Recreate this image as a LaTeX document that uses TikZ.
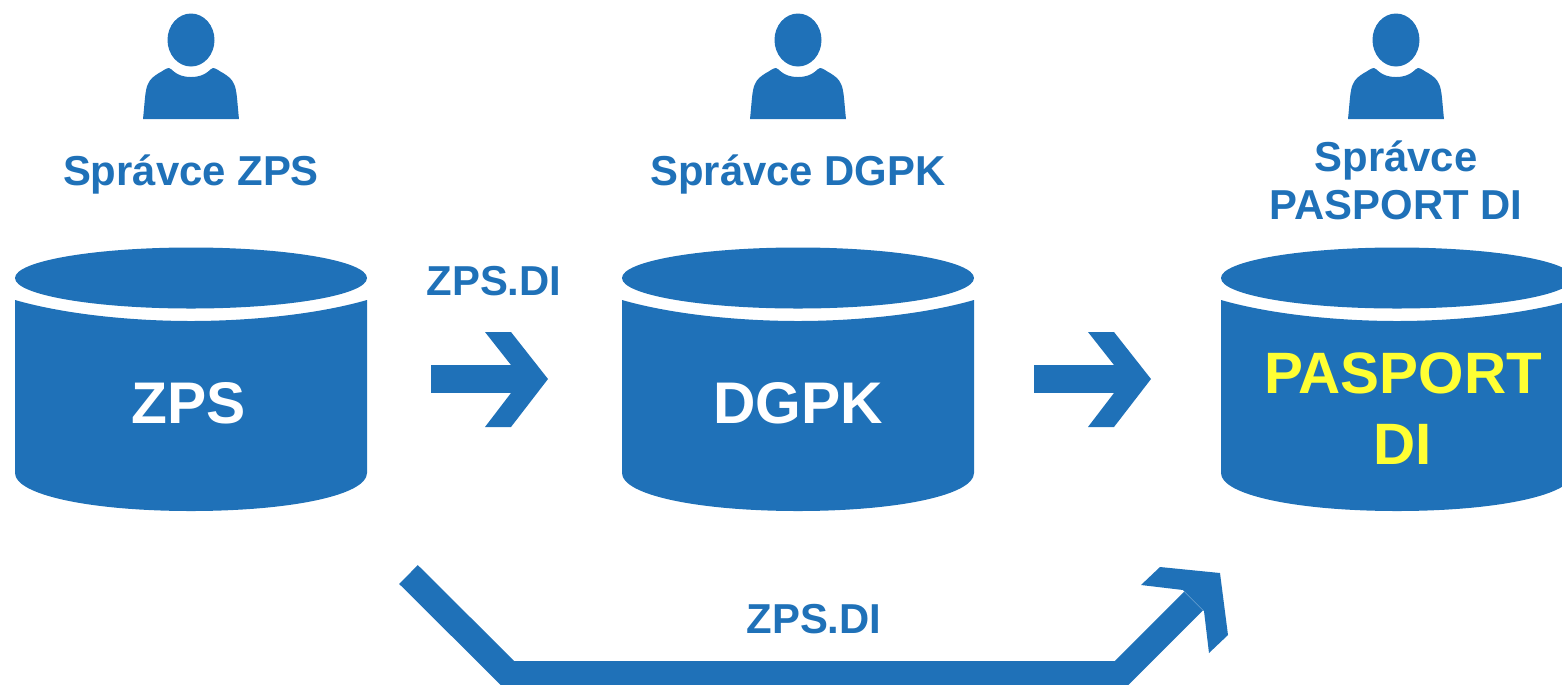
\documentclass[tikz,border=0pt]{standalone}
\usepackage{fontspec}
\setmainfont{Liberation Sans}
\definecolor{dsblue}{HTML}{1F71B8}
\definecolor{dsyellow}{HTML}{FFFF33}
\tikzset{
  person/.pic={
    \fill[dsblue] (0,40) ellipse [x radius=23.5,y radius=26.5];
    \fill[dsblue] (-48,119) .. controls (-46,100) and (-46,90) .. (-43,84)
      .. controls (-41,79) and (-37,76) .. (-32,73)
      .. controls (-28,71) and (-25,68) .. (-22,68)
      .. controls (-19,68) and (-16,77) .. (0,77)
      .. controls (16,77) and (19,68) .. (22,68)
      .. controls (25,68) and (28,71) .. (32,73)
      .. controls (37,76) and (41,79) .. (43,84)
      .. controls (46,90) and (46,100) .. (48,119) -- cycle;
  },
  dbcyl/.pic={
    \fill[dsblue] (0,278) ellipse [x radius=176,y radius=30.5];
    \fill[dsblue] (-176,300) .. controls (-120,316) and (-50,321) .. (0,321)
      .. controls (50,321) and (120,316) .. (176,300) -- (176,473)
      .. controls (176,495) and (100,511) .. (0,511)
      .. controls (-100,511) and (-176,495) .. (-176,473) -- cycle;
  },
  chevron/.pic={
    \fill[dsblue] (-63,-47) -- (-37,-47) -- (0,0) -- (-37,48) -- (-63,48)
      -- (-37,14) -- (-37,-14) -- cycle;
  },
  bighead/.pic={
    \fill[dsblue] (-60,-6) -- (0,0) -- (8,62) -- (-11,80) -- (-16,38)
      -- (-37,17) -- (-79,12) -- cycle;
  },
  flow/.style={draw=dsblue,line width=0.28cm},
  bigflow/.style={draw=dsblue,line width=0.265cm,miter limit=4},
  who/.style={text=dsblue,font=\fontsize{11.9}{13.4}\selectfont\bfseries,align=center},
  dbtext/.style={text=white,font=\fontsize{16.7}{20}\selectfont\bfseries,align=center}
}
\begin{document}
\begin{tikzpicture}[x=0.01cm,y=-0.01cm]
\clip (0,0) rectangle (1562,684);
\pic at (191,0) {person};
\pic at (798,0) {person};
\pic at (1396,0) {person};
\pic at (191,0) {dbcyl};
\pic at (798,0) {dbcyl};
\pic at (1397,0) {dbcyl};
\node[who,anchor=base] (adminzps) at (191,185) {Správce ZPS};
\node[who,anchor=base] (admindgpk) at (798,185) {Správce DGPK};
\node[who,anchor=base] (adminpasport) at (1396,219) {Správce\\PASPORT DI};
\node[dbtext] (zps) at (189,403) {ZPS};
\node[dbtext] (dgpk) at (798,403) {DGPK};
\node[dbtext,text=dsyellow,font=\fontsize{16.6}{20.2}\selectfont\bfseries] (pasport) at (1403,409) {PASPORT\\DI};
\node[who,anchor=base] (flowa) at (494,295) {ZPS.DI};
\node[who,anchor=base] (flowb) at (814,633) {ZPS.DI};
% block arrows
\coordinate (a1) at (431,379);
\coordinate (a2) at (520,379);
\coordinate (a3) at (548,379);
\coordinate (b1) at (1034,379);
\coordinate (b2) at (1123,379);
\coordinate (b3) at (1151,379);
\coordinate (c1) at (408.5,574.5);
\coordinate (c2) at (508.75,674.25);
\coordinate (c3) at (1120.25,674.25);
\coordinate (c4) at (1193.5,601);
\coordinate (c5) at (1220,573);
\draw[flow] (a1) -- (a2);
\pic at (a3) {chevron};
\draw[flow] (b1) -- (b2);
\pic at (b3) {chevron};
\draw[bigflow] (c1) -- (c2) -- (c3) -- (c4);
\pic at (c5) {bighead};
\end{tikzpicture}
\end{document}
